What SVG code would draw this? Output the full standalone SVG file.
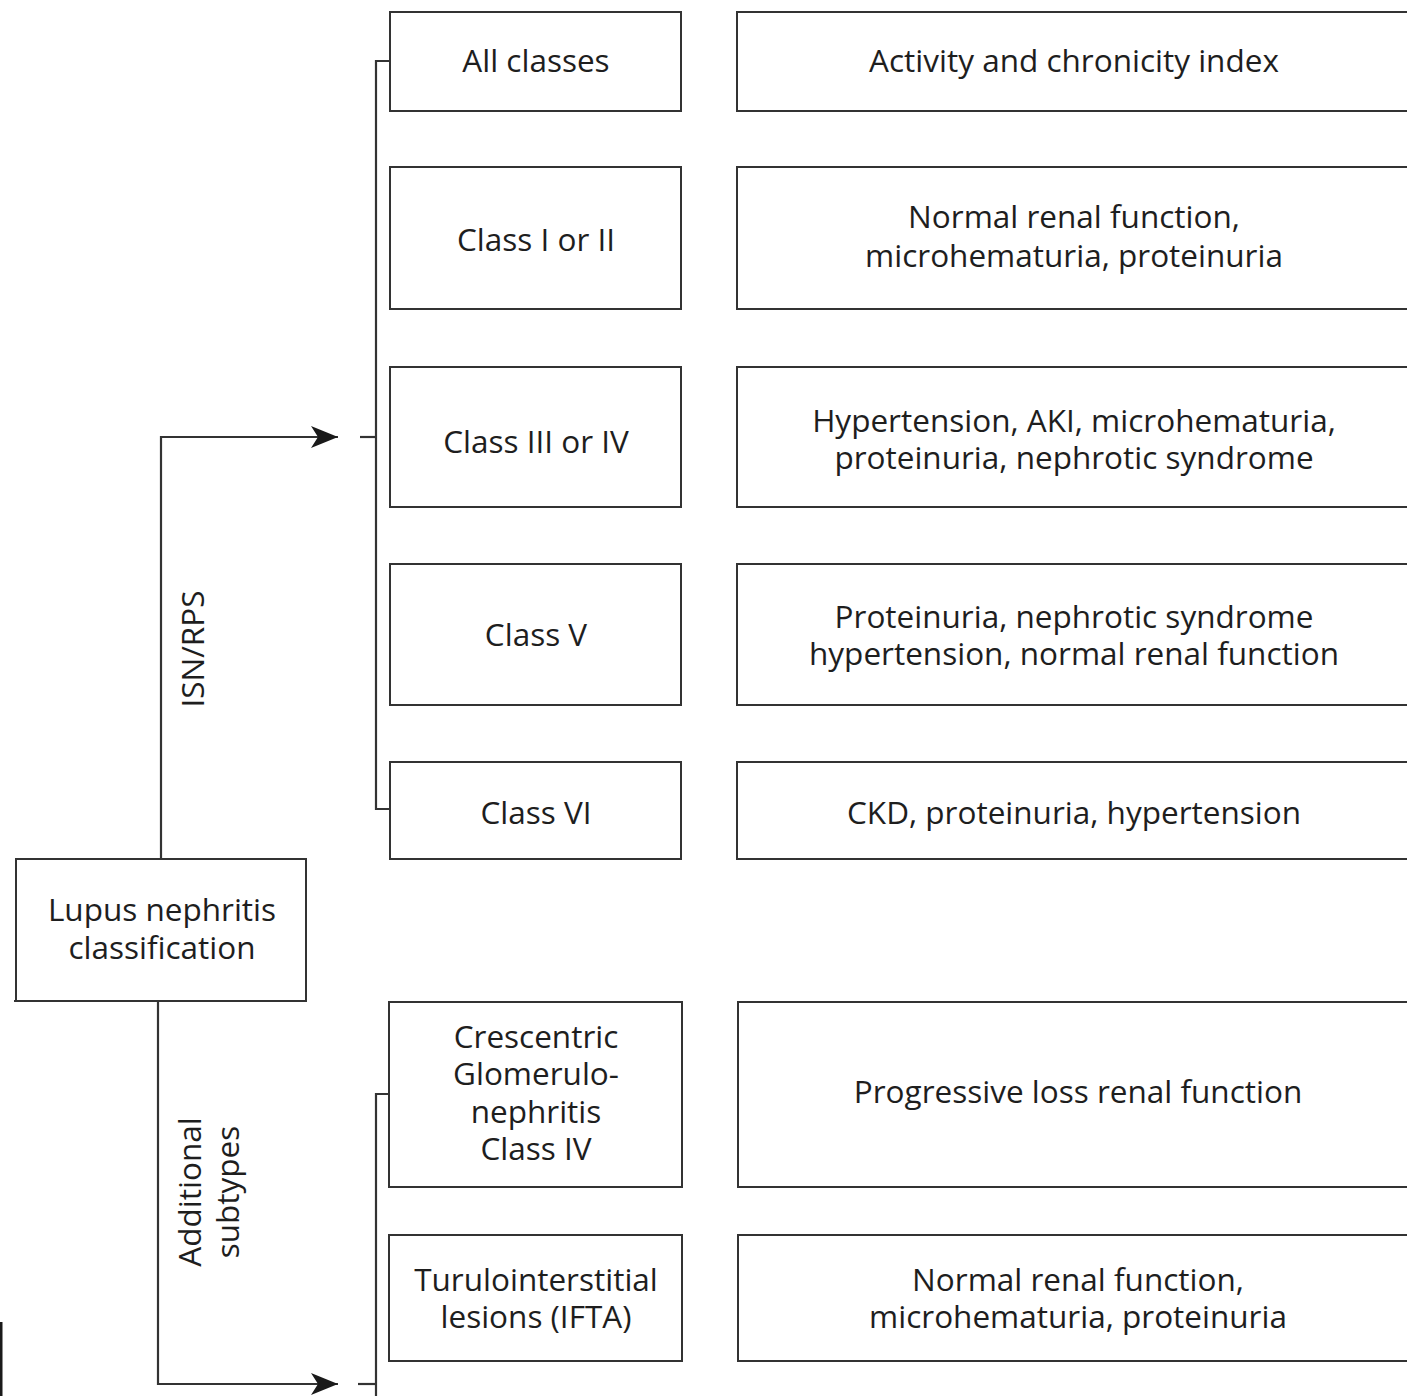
<svg xmlns="http://www.w3.org/2000/svg" width="1407" height="1396" viewBox="0 0 1407 1396">
<defs>
<style>
.box{fill:#fff;stroke:#333;stroke-width:2}
.ln{fill:none;stroke:#333;stroke-width:2.2}
text{font-family:"Open Sans","DejaVu Sans",sans-serif;font-size:31.5px;fill:#1e1e1e;text-anchor:middle}
</style>
<marker id="ah" viewBox="0 0 27 22" refX="27" refY="11" markerWidth="27" markerHeight="22" markerUnits="userSpaceOnUse" orient="auto">
<path d="M0,0 L27,11 L0,22 L7,11 Z" fill="#1a1a1a"/>
</marker>
</defs>
<rect width="1407" height="1396" fill="#fff"/>
<g id="connectors">
<path class="ln" d="M161,859 V437 H338" marker-end="url(#ah)"/>
<path class="ln" d="M360,437 H376"/>
<path class="ln" d="M390,61 H376 V809 H390"/>
<path class="ln" d="M158,1001 V1384 H338" marker-end="url(#ah)"/>
<path class="ln" d="M358,1384 H376"/>
<path class="ln" d="M389,1094 H376 V1396"/>
<text transform="translate(204,649) rotate(-90)">ISN/RPS</text>
<text transform="translate(201,1192) rotate(-90)"><tspan x="0" y="0">Additional</tspan><tspan x="0" y="38">subtypes</tspan></text>
</g>
<g id="root">
<rect class="box" x="16" y="859" width="290" height="142"/>
<path class="ln" d="M14,1001 H306"/>
<text><tspan x="162" y="921">Lupus nephritis</tspan><tspan x="162" y="959">classification</tspan></text>
</g>
<g id="n-all"><rect class="box" x="390" y="12" width="291" height="99"/><text x="536" y="72">All classes</text></g>
<g id="n-12"><rect class="box" x="390" y="167" width="291" height="142"/><text x="536" y="251">Class I or II</text></g>
<g id="n-34"><rect class="box" x="390" y="367" width="291" height="140"/><text x="536" y="453">Class III or IV</text></g>
<g id="n-5"><rect class="box" x="390" y="564" width="291" height="141"/><text x="536" y="646">Class V</text></g>
<g id="n-6"><rect class="box" x="390" y="762" width="291" height="97"/><text x="536" y="824">Class VI</text></g>
<g id="n-cres"><rect class="box" x="389" y="1002" width="293" height="185"/>
<text><tspan x="536" y="1048">Crescentric</tspan><tspan x="536" y="1085">Glomerulo-</tspan><tspan x="536" y="1123">nephritis</tspan><tspan x="536" y="1160">Class IV</tspan></text></g>
<g id="n-tub"><rect class="box" x="389" y="1235" width="293" height="126"/>
<text><tspan x="536" y="1291">Turulointerstitial</tspan><tspan x="536" y="1328">lesions (IFTA)</tspan></text></g>
<g id="r-all"><rect class="box" x="737" y="12" width="680" height="99"/><text x="1074" y="72">Activity and chronicity index</text></g>
<g id="r-12"><rect class="box" x="737" y="167" width="680" height="142"/><text><tspan x="1074" y="228">Normal renal function,</tspan><tspan x="1074" y="267">microhematuria, proteinuria</tspan></text></g>
<g id="r-34"><rect class="box" x="737" y="367" width="680" height="140"/><text><tspan x="1074" y="432">Hypertension, AKI, microhematuria,</tspan><tspan x="1074" y="469">proteinuria, nephrotic syndrome</tspan></text></g>
<g id="r-5"><rect class="box" x="737" y="564" width="680" height="141"/><text><tspan x="1074" y="628">Proteinuria, nephrotic syndrome</tspan><tspan x="1074" y="665">hypertension, normal renal function</tspan></text></g>
<g id="r-6"><rect class="box" x="737" y="762" width="680" height="97"/><text x="1074" y="824">CKD, proteinuria, hypertension</text></g>
<g id="r-cres"><rect class="box" x="738" y="1002" width="680" height="185"/><text x="1078" y="1103">Progressive loss renal function</text></g>
<g id="r-tub"><rect class="box" x="738" y="1235" width="680" height="126"/><text><tspan x="1078" y="1291">Normal renal function,</tspan><tspan x="1078" y="1328">microhematuria, proteinuria</tspan></text></g>
<rect x="0" y="1322" width="2.5" height="74" fill="#1a1a1a"/>
</svg>
